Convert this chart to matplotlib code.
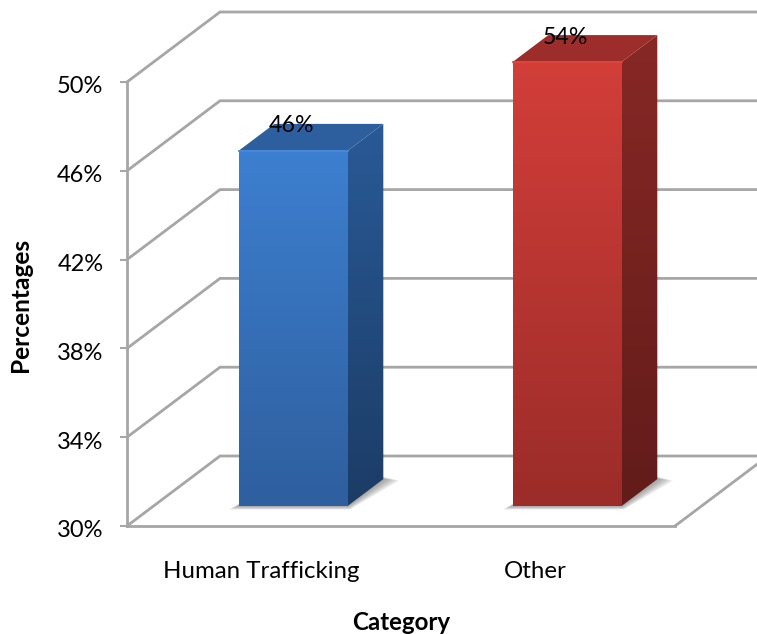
#!/usr/bin/env python3
"""Pseudo-3D column chart: human trafficking vs other (axis stops at 50%)."""

import numpy as np
import matplotlib
matplotlib.use('Agg')
import matplotlib.pyplot as plt
from matplotlib.colors import LinearSegmentedColormap
from matplotlib.patches import Polygon
from matplotlib.transforms import ScaledTranslation

categories = ['Human Trafficking', 'Other']
values = [46, 54]
value_labels = ['46%', '54%']
y_ticks = [30, 34, 38, 42, 46, 50]

plt.rcParams['font.family'] = ['Lato', 'DejaVu Sans']

W, H = 757, 634
X0, X1, Y_BOT, Y_TOP = 127, 675, 526, 82
YMIN, YMAX = y_ticks[0], y_ticks[-1]
PX_X = (X1 - X0) / len(categories)
PX_Y = (Y_BOT - Y_TOP) / (YMAX - YMIN)
GRID = '#a6a6a6'


def project(x, y, d):
    """Oblique projection: d=0 is the front plane, d=1 the back wall."""
    return x + d * 93 / PX_X, y + d * 70 / PX_Y


def gradient_face(ax, pts, top, bottom):
    """Fill a polygon with a vertical gradient, clipped to its outline."""
    pts = np.array(pts)
    cmap = LinearSegmentedColormap.from_list('face', [top, bottom])
    im = ax.imshow(np.linspace(0, 1, 128)[:, None], cmap=cmap, aspect='auto',
                   extent=[pts[:, 0].min(), pts[:, 0].max(),
                           pts[:, 1].min(), pts[:, 1].max()],
                   zorder=4)
    im.set_clip_path(Polygon(pts, closed=True, transform=ax.transData))
    im.set_clip_box(fig.bbox)


def draw_bar(ax, xc, value, colors):
    top = min(value, YMAX)
    half = 54.5 / PX_X
    d0, d1 = 0.286, 0.67
    xl, xr = xc - half, xc + half
    f = [project(xl, YMIN, d0), project(xr, YMIN, d0),
         project(xr, top, d0), project(xl, top, d0)]
    s = [project(xr, YMIN, d0), project(xr, YMIN, d1),
         project(xr, top, d1), project(xr, top, d0)]
    t = [project(xl, top, d0), project(xr, top, d0),
         project(xr, top, d1), project(xl, top, d1)]

    # soft shadow on the floor
    ex, ey = 1 / PX_X, 1 / PX_Y
    for k in range(1, 9):
        shadow = [(f[0][0] - k * ex * 1.2, f[0][1] - k * ey * 0.45),
                  (f[1][0] + k * ex * 0.3, f[1][1] - k * ey * 0.45),
                  (s[1][0] + k * ex * 2.0, s[1][1] - k * ey * 0.2),
                  (s[1][0], s[1][1] + k * ey * 0.3),
                  (f[0][0], f[0][1] + k * ey * 0.3)]
        ax.add_patch(Polygon(shadow, closed=True, fc='#606060', ec='none',
                             alpha=0.09, zorder=3, clip_on=False))

    gradient_face(ax, s, colors['side_top'], colors['side_bot'])
    gradient_face(ax, f, colors['front_top'], colors['front_bot'])
    ax.add_patch(Polygon(t, closed=True, fc=colors['top'], ec='none', zorder=4,
                         clip_on=False))
    ax.plot([f[3][0], f[2][0]], [f[3][1], f[2][1]], color=colors['edge'],
            lw=1.5, zorder=5, clip_on=False, solid_capstyle='round')
    return project(xc, top, d1)[1]


fig = plt.figure(figsize=(W / 100, H / 100), dpi=100)
ax = fig.add_axes([X0 / W, 1 - Y_BOT / H, (X1 - X0) / W, (Y_BOT - Y_TOP) / H])
ax.patch.set_alpha(0)

# gridlines: floor-to-wall diagonal, then along the back wall
for v in y_ticks:
    a = project(0, v, 0)
    b = project(0, v, 1)
    ax.plot([a[0], b[0], 2.6], [a[1], b[1], b[1]], color=GRID, lw=2,
            zorder=1, clip_on=False, solid_joinstyle='miter')
a = project(2, YMIN, 0)
b = project(2, YMIN, 1)
ax.plot([a[0], b[0]], [a[1], b[1]], color=GRID, lw=2, zorder=1, clip_on=False)

bar_colors = [
    {'front_top': '#3d7fd0', 'front_bot': '#2e5f9e', 'side_top': '#295a96',
     'side_bot': '#1c3c66', 'top': '#2d5f9f', 'edge': '#4787d8'},
    {'front_top': '#d33e39', 'front_bot': '#9b2c29', 'side_top': '#872825',
     'side_bot': '#621c1a', 'top': '#9c2d2a', 'edge': '#d9443f'},
]
BAR_SHIFT = 2.5 / PX_X
for i, (val, lab) in enumerate(zip(values, value_labels)):
    xc = i + 0.5
    ly = draw_bar(ax, xc + BAR_SHIFT, val, bar_colors[i])
    ax.text(project(xc, YMIN, 0.3)[0], ly - 2 / PX_Y, lab, ha='center', va='center',
            fontsize=16.7, color='black', zorder=6, clip_on=False)

ax.set_xlim(0, len(categories))
ax.set_ylim(YMIN, YMAX)
ax.set_xticks([i + 0.5 for i in range(len(categories))])
ax.set_xticklabels(categories, fontsize=17.3)
ax.set_yticks(y_ticks)
ax.set_yticklabels([f'{v}%' for v in y_ticks], fontsize=17)
ax.tick_params(axis='x', length=0, pad=25)
ax.tick_params(axis='y', length=5, width=1.5, color=GRID, pad=12)
for side in ['top', 'right']:
    ax.spines[side].set_visible(False)
for side in ['left', 'bottom']:
    ax.spines[side].set_color(GRID)
    ax.spines[side].set_linewidth(2)

# nudge tick labels to sit where the original has them
y_nudge = ScaledTranslation(0, -3 / 100, fig.dpi_scale_trans)
for label in ax.get_yticklabels():
    label.set_transform(label.get_transform() + y_nudge)
x_nudge = ScaledTranslation(-3 / 100, 0, fig.dpi_scale_trans)
for label in ax.get_xticklabels():
    label.set_transform(label.get_transform() + x_nudge)

fig.text(401 / W, 1 - 623 / H, 'Category', ha='center', va='center',
         fontsize=17.4, fontweight='bold')
fig.text(21 / W, 1 - 305 / H, 'Percentages', ha='center', va='center',
         rotation=90, fontsize=17.6, fontweight='bold')

fig.savefig('out.png', dpi=100)
